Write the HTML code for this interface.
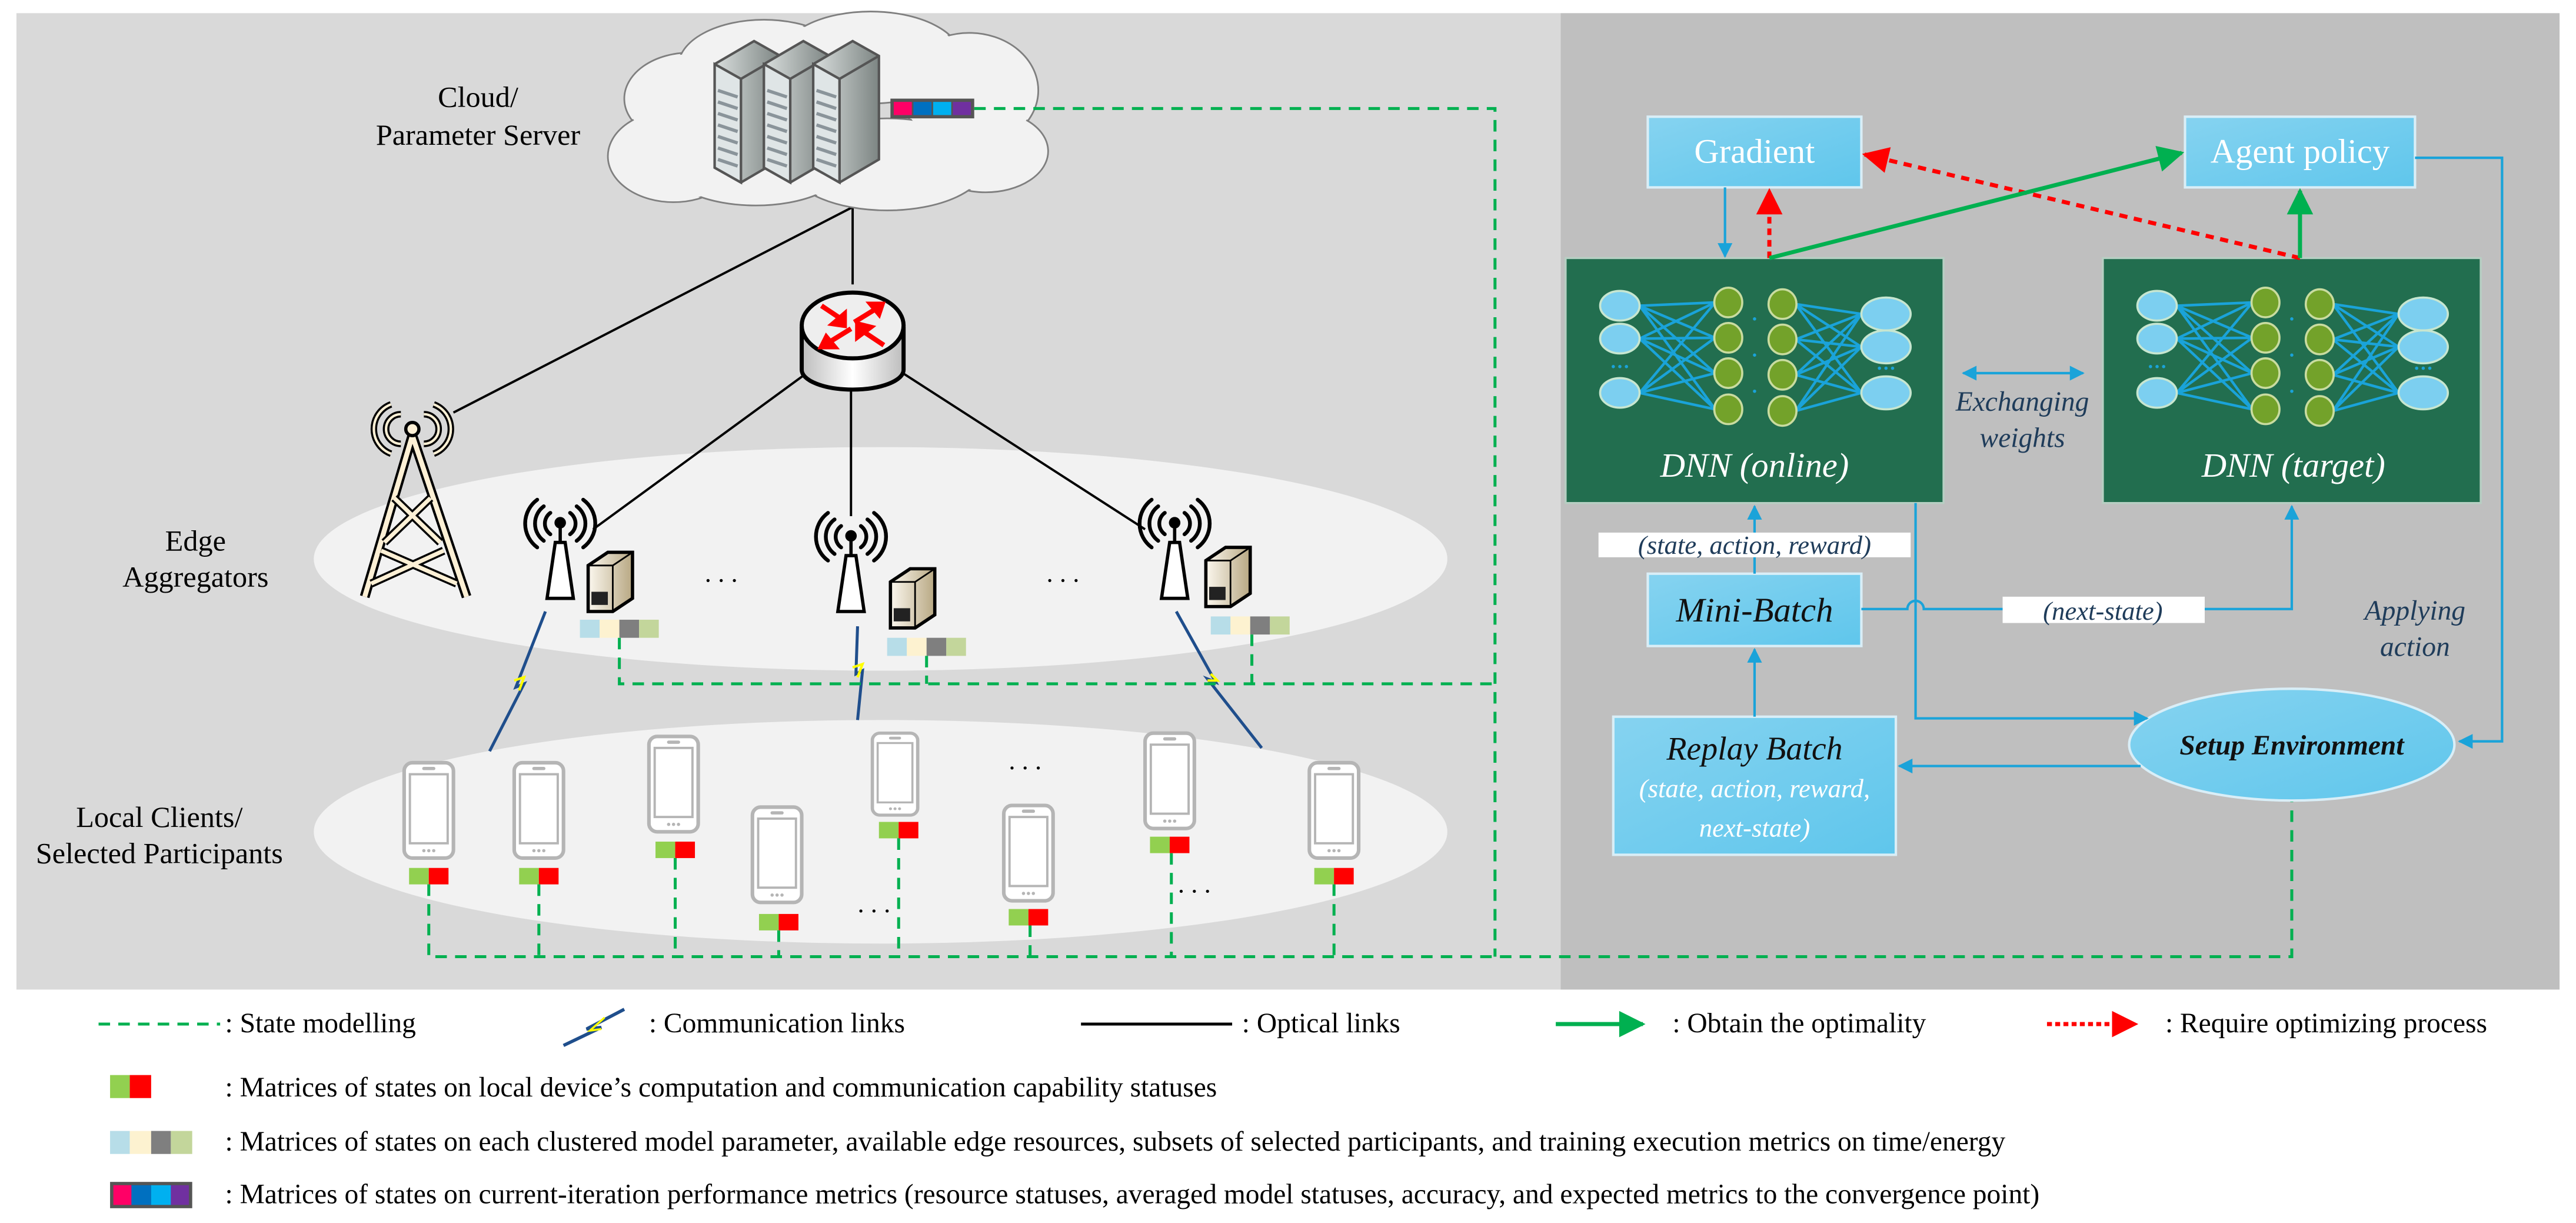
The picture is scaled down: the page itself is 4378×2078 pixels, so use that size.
<!DOCTYPE html>
<html><head><meta charset="utf-8">
<style>
html,body{margin:0;padding:0;background:#fff;}
svg{display:block;}
</style></head>
<body>
<svg width="4378" height="2078" viewBox="0 0 1568 744" preserveAspectRatio="none" xmlns="http://www.w3.org/2000/svg" font-family="'Liberation Serif', serif">
<defs>
<linearGradient id="bx" x1="0" y1="0" x2="1" y2="1"><stop offset="0" stop-color="#86d3f0"/><stop offset="1" stop-color="#5fc6ec"/></linearGradient>
<linearGradient id="srv" x1="0" y1="0" x2="1" y2="0"><stop offset="0" stop-color="#d9dedd"/><stop offset="1" stop-color="#7d8583"/></linearGradient>
<linearGradient id="ps" x1="0" y1="0" x2="1" y2="0"><stop offset="0" stop-color="#fbf7ee"/><stop offset="1" stop-color="#b8a883"/></linearGradient>
<linearGradient id="rt" x1="0" y1="0" x2="1" y2="0"><stop offset="0" stop-color="#bdbdbd"/><stop offset=".5" stop-color="#fff"/><stop offset="1" stop-color="#bdbdbd"/></linearGradient>
<marker id="ab" viewBox="0 0 10 10" refX="9" refY="5" markerWidth="11" markerHeight="9" markerUnits="userSpaceOnUse" orient="auto"><path d="M0,0L10,5L0,10z" fill="#1aa3d9"/></marker>
<marker id="ab2" viewBox="0 0 10 10" refX="1" refY="5" markerWidth="11" markerHeight="9" markerUnits="userSpaceOnUse" orient="auto"><path d="M10,0L0,5L10,10z" fill="#1aa3d9"/></marker>
<marker id="ag" viewBox="0 0 10 10" refX="9" refY="5" markerWidth="22" markerHeight="16" markerUnits="userSpaceOnUse" orient="auto"><path d="M0,0L10,5L0,10z" fill="#00b050"/></marker>
<marker id="ar" viewBox="0 0 10 10" refX="9" refY="5" markerWidth="22" markerHeight="16" markerUnits="userSpaceOnUse" orient="auto"><path d="M0,0L10,5L0,10z" fill="#ff0000"/></marker>
<g id="nn">
 <g stroke="#1aa3d9" stroke-width="1.6">
  <path d="M45,28L91,26M45,28L91,47.5M45,28L91,69M45,28L91,91M45,48L91,26M45,48L91,47.5M45,48L91,69M45,48L91,91M45,81L91,26M45,81L91,47.5M45,81L91,69M45,81L91,91"/>
  <path d="M140,27L180,33M140,27L180,53M140,27L180,81M140,48.5L180,33M140,48.5L180,53M140,48.5L180,81M140,70L180,33M140,70L180,53M140,70L180,81M140,92L180,33M140,92L180,53M140,92L180,81"/>
 </g>
 <g fill="#7ccff0" stroke="#c7e6d0" stroke-width="1.3">
  <ellipse cx="33" cy="28" rx="12" ry="9"/><ellipse cx="33" cy="48" rx="12" ry="9"/><ellipse cx="33" cy="81" rx="12" ry="9"/>
  <ellipse cx="195" cy="33" rx="15" ry="10"/><ellipse cx="195" cy="53" rx="15" ry="10"/><ellipse cx="195" cy="81" rx="15" ry="10"/>
 </g>
 <g fill="#73a22a" stroke="#c9dca0" stroke-width="1.3">
  <ellipse cx="99" cy="26" rx="8.5" ry="9"/><ellipse cx="99" cy="47.5" rx="8.5" ry="9"/><ellipse cx="99" cy="69" rx="8.5" ry="9"/><ellipse cx="99" cy="91" rx="8.5" ry="9"/>
  <ellipse cx="132" cy="27" rx="8.5" ry="9"/><ellipse cx="132" cy="48.5" rx="8.5" ry="9"/><ellipse cx="132" cy="70" rx="8.5" ry="9"/><ellipse cx="132" cy="92" rx="8.5" ry="9"/>
 </g>
 <g fill="#1aa3d9"><circle cx="29" cy="65" r="1"/><circle cx="33" cy="65" r="1"/><circle cx="37" cy="65" r="1"/><circle cx="191" cy="66" r="1"/><circle cx="195" cy="66" r="1"/><circle cx="199" cy="66" r="1"/><circle cx="115" cy="36" r="1"/><circle cx="115" cy="58" r="1"/><circle cx="115" cy="80" r="1"/></g>
</g>
<g id="phone">
 <rect x="0" y="0" width="30" height="58" rx="5" fill="#fff" stroke="#b5b5b5" stroke-width="2.2"/>
 <rect x="3.5" y="7" width="23" height="42" fill="#fff" stroke="#b5b5b5" stroke-width="1.4"/>
 <rect x="11" y="2.5" width="8" height="2" rx="1" fill="#b5b5b5"/>
 <circle cx="12" cy="53.5" r="1" fill="#b5b5b5"/><circle cx="15" cy="53.5" r="1" fill="#b5b5b5"/><circle cx="18" cy="53.5" r="1" fill="#b5b5b5"/>
</g>
<g id="bs">
 <path d="M-8,0L8,0L3,-34L-3,-34z" fill="#fff" stroke="#000" stroke-width="2"/>
 <line x1="0" y1="-34" x2="0" y2="-44" stroke="#000" stroke-width="2"/>
 <circle cx="0" cy="-46" r="3.5" fill="#000"/>
 <g fill="none" stroke="#000" stroke-width="2.3" stroke-linecap="round">
  <path d="M-6,-52A8,8 0 0 0 -6,-39M6,-52A8,8 0 0 1 6,-39"/>
  <path d="M-10,-56A13,13 0 0 0 -10,-35M10,-56A13,13 0 0 1 10,-35"/>
  <path d="M-14,-60A18,18 0 0 0 -14,-31M14,-60A18,18 0 0 1 14,-31"/>
 </g>
</g>
<g id="psrv">
 <path d="M0,8L12,0L27,0L27,28L15,36L0,36z" fill="url(#ps)" stroke="#000" stroke-width="2"/>
 <path d="M0,8L15,8L27,0M15,8L15,36" fill="none" stroke="#000" stroke-width="1"/>
 <rect x="2" y="24" width="10" height="8" fill="#222"/>
</g>
<g id="rack">
 <path d="M0,14L24,0L40,9L40,72L16,86L0,77z" fill="url(#srv)" stroke="#555" stroke-width="1.5"/>
 <path d="M0,14L16,23L40,9M16,23L16,86" fill="none" stroke="#555" stroke-width="1.5"/>
 <path d="M0,14L16,23L16,86L0,77z" fill="#dfe5e6" stroke="#555" stroke-width="1.5"/>
 <g stroke="#8a949a" stroke-width="2"><path d="M2,30L14,34M2,37L14,41M2,44L14,48M2,51L14,55M2,58L14,62M2,65L14,69M2,72L14,76"/></g>
</g>
</defs>

<!-- panels -->
<rect x="10" y="8" width="940" height="594" fill="#d9d9d9"/>
<rect x="950" y="8" width="608" height="594" fill="#bfbfbf"/>

<!-- ellipses -->
<ellipse cx="536" cy="340" rx="345" ry="68" fill="#f2f2f2"/>
<ellipse cx="536" cy="506" rx="345" ry="68" fill="#f2f2f2"/>

<!-- optical lines -->
<g stroke="#000" stroke-width="1.4" fill="none">
 <line x1="519" y1="126" x2="519" y2="173"/>
 <line x1="519" y1="126" x2="276" y2="251"/>
 <line x1="491" y1="227" x2="361" y2="322"/>
 <line x1="518" y1="237" x2="518" y2="314"/>
 <line x1="548" y1="226" x2="697" y2="322"/>
</g>

<!-- cloud -->
<g fill="#f2f2f2" stroke="#7f7f7f" stroke-width="1">
 <ellipse cx="420" cy="60" rx="40" ry="28"/><ellipse cx="410" cy="95" rx="40" ry="28"/><ellipse cx="465" cy="40" rx="52" ry="28"/>
 <ellipse cx="530" cy="35" rx="55" ry="28"/><ellipse cx="590" cy="55" rx="42" ry="35"/><ellipse cx="600" cy="92" rx="38" ry="25"/>
 <ellipse cx="540" cy="100" rx="60" ry="28"/><ellipse cx="460" cy="100" rx="55" ry="25"/>
</g>
<g fill="#f2f2f2">
 <ellipse cx="420" cy="60" rx="39" ry="27"/><ellipse cx="410" cy="95" rx="39" ry="27"/><ellipse cx="465" cy="40" rx="51" ry="27"/>
 <ellipse cx="530" cy="35" rx="54" ry="27"/><ellipse cx="590" cy="55" rx="41" ry="34"/><ellipse cx="600" cy="92" rx="37" ry="24"/>
 <ellipse cx="540" cy="100" rx="59" ry="27"/><ellipse cx="460" cy="100" rx="54" ry="24"/>
</g>
<!-- servers -->
<use href="#rack" transform="translate(435,25)"/>
<use href="#rack" transform="translate(465,25)"/>
<use href="#rack" transform="translate(495,25)"/>
<g transform="translate(0,-13)">
<rect x="542" y="73" width="51" height="12" fill="#555"/>
<rect x="544" y="75" width="11" height="8" fill="#ff0066"/><rect x="556" y="75" width="11" height="8" fill="#0070c0"/><rect x="568" y="75" width="11" height="8" fill="#00b0f0"/><rect x="580" y="75" width="11" height="8" fill="#7030a0"/>
</g>
<text x="291" y="65" font-size="18" text-anchor="middle">Cloud/</text>
<text x="291" y="88" font-size="18" text-anchor="middle">Parameter Server</text>

<!-- router -->
<path d="M488,200L488,225A31,12 0 0 0 550,225L550,200z" fill="url(#rt)" stroke="#000" stroke-width="2.5"/>
<ellipse cx="519" cy="198" rx="31" ry="20" fill="#eee" stroke="#000" stroke-width="2.5"/>
<g stroke="#ff0000" stroke-width="3" fill="#ff0000">
 <line x1="500" y1="186" x2="512" y2="194"/><path d="M514,191L514,198L507,197z"/>
 <line x1="538" y1="210" x2="526" y2="202"/><path d="M522,205L522,197L530,199z"/>
 <line x1="520" y1="196" x2="533" y2="188"/><path d="M537,185L530,185L535,191z"/>
 <line x1="518" y1="200" x2="505" y2="208"/><path d="M500,211L508,211L503,205z"/>
</g>

<!-- tower -->
<g stroke="#000" stroke-width="2" fill="none">
 <path d="M251,265L222,363M251,265L284,363" stroke="#000" stroke-width="6"/>
 <path d="M251,265L222,363M251,265L284,363" stroke="#fdf0d5" stroke-width="3"/>
 <path d="M240,303L268,330M262,303L234,330M232,335L278,355M270,335L226,355" stroke="#000" stroke-width="5"/>
 <path d="M240,303L268,330M262,303L234,330M232,335L278,355M270,335L226,355" stroke="#fdf0d5" stroke-width="2.5"/>
 <circle cx="251" cy="261" r="4" fill="#fdf0d5"/>
 <path d="M244,252A9,9 0 0 0 244,270M258,252A9,9 0 0 1 258,270" stroke-width="4"/>
 <path d="M238,246A16,16 0 0 0 238,276M264,246A16,16 0 0 1 264,276" stroke-width="4"/>
 <path d="M244,252A9,9 0 0 0 244,270M258,252A9,9 0 0 1 258,270M238,246A16,16 0 0 0 238,276M264,246A16,16 0 0 1 264,276" stroke="#fdf0d5" stroke-width="1.5"/>
</g>

<!-- base stations -->
<use href="#bs" transform="translate(341,364)"/>
<use href="#bs" transform="translate(518,372)"/>
<use href="#bs" transform="translate(715,364)"/>
<use href="#psrv" transform="translate(358,336)"/>
<use href="#psrv" transform="translate(542,346)"/>
<use href="#psrv" transform="translate(734,333)"/>

<!-- edge bars -->
<g>
 <rect x="353" y="377" width="12" height="11" fill="#b7dde8"/><rect x="365" y="377" width="12" height="11" fill="#fdf2d0"/><rect x="377" y="377" width="12" height="11" fill="#7f7f7f"/><rect x="389" y="377" width="12" height="11" fill="#c3d69b"/>
 <rect x="540" y="388" width="12" height="11" fill="#b7dde8"/><rect x="552" y="388" width="12" height="11" fill="#fdf2d0"/><rect x="564" y="388" width="12" height="11" fill="#7f7f7f"/><rect x="576" y="388" width="12" height="11" fill="#c3d69b"/>
 <rect x="737" y="375" width="12" height="11" fill="#b7dde8"/><rect x="749" y="375" width="12" height="11" fill="#fdf2d0"/><rect x="761" y="375" width="12" height="11" fill="#7f7f7f"/><rect x="773" y="375" width="12" height="11" fill="#c3d69b"/>
</g>

<!-- lightning -->
<path d="M332,372L314,418L319,416L298,457" fill="none" stroke="#1f4e8c" stroke-width="1.8"/><path d="M313,414L319,412L316,420" stroke="#ff0" stroke-width="1.5" fill="none"/>
<path d="M522,381L521,410L525,408L522,438" fill="none" stroke="#1f4e8c" stroke-width="1.8"/><path d="M519,406L525,404L522,412" stroke="#ff0" stroke-width="1.5" fill="none"/>
<path d="M716,372L740,415L735,413L768,455" fill="none" stroke="#1f4e8c" stroke-width="1.8"/><path d="M737,410L741,414L735,414" stroke="#ff0" stroke-width="1.5" fill="none"/>

<!-- dots -->
<g font-size="16" text-anchor="middle">
 <text x="439" y="354">. . .</text><text x="647" y="354">. . .</text>
 <text x="624" y="468">. . .</text><text x="532" y="555">. . .</text><text x="727" y="543">. . .</text>
</g>

<!-- labels -->
<text x="119" y="335" font-size="18" text-anchor="middle">Edge</text>
<text x="119" y="357" font-size="18" text-anchor="middle">Aggregators</text>
<text x="97" y="503" font-size="18" text-anchor="middle">Local Clients/</text>
<text x="97" y="525" font-size="18" text-anchor="middle">Selected Participants</text>

<!-- phones -->
<use href="#phone" transform="translate(246,464)"/>
<use href="#phone" transform="translate(313,464)"/>
<use href="#phone" transform="translate(395,448)"/>
<use href="#phone" transform="translate(458,491)"/>
<use href="#phone" transform="translate(531,446) scale(0.92,0.86)"/>
<use href="#phone" transform="translate(611,490)"/>
<use href="#phone" transform="translate(697,446)"/>
<use href="#phone" transform="translate(797,464)"/>
<!-- phone bars -->
<g>
 <rect x="249" y="528" width="12" height="10" fill="#92d050"/><rect x="261" y="528" width="12" height="10" fill="#ff0000"/>
 <rect x="316" y="528" width="12" height="10" fill="#92d050"/><rect x="328" y="528" width="12" height="10" fill="#ff0000"/>
 <rect x="399" y="512" width="12" height="10" fill="#92d050"/><rect x="411" y="512" width="12" height="10" fill="#ff0000"/>
 <rect x="462" y="556" width="12" height="10" fill="#92d050"/><rect x="474" y="556" width="12" height="10" fill="#ff0000"/>
 <rect x="535" y="500" width="12" height="10" fill="#92d050"/><rect x="547" y="500" width="12" height="10" fill="#ff0000"/>
 <rect x="614" y="553" width="12" height="10" fill="#92d050"/><rect x="626" y="553" width="12" height="10" fill="#ff0000"/>
 <rect x="700" y="509" width="12" height="10" fill="#92d050"/><rect x="712" y="509" width="12" height="10" fill="#ff0000"/>
 <rect x="800" y="528" width="12" height="10" fill="#92d050"/><rect x="812" y="528" width="12" height="10" fill="#ff0000"/>
</g>

<!-- green dashed state modelling -->
<g stroke="#00b050" stroke-width="1.8" stroke-dasharray="7,5" fill="none">
 <path d="M593,66L910,66L910,582"/>
 <path d="M377,388L377,416L910,416"/>
 <path d="M564,399L564,416"/>
 <path d="M762,386L762,416"/>
 <path d="M261,538L261,582L1395,582L1395,487"/>
 <path d="M328,538L328,582M411,522L411,582M474,566L474,582M547,510L547,582M627,563L627,582M713,519L713,582M812,538L812,582"/>
</g>

<!-- ===== Right panel ===== -->
<rect x="1003" y="71" width="130" height="43" fill="url(#bx)" stroke="#d9eef7" stroke-width="1.5"/>
<text x="1068" y="99" font-size="21" fill="#fff" text-anchor="middle">Gradient</text>
<rect x="1330" y="71" width="140" height="43" fill="url(#bx)" stroke="#d9eef7" stroke-width="1.5"/>
<text x="1400" y="99" font-size="21" fill="#fff" text-anchor="middle">Agent policy</text>

<rect x="953" y="157" width="230" height="149" fill="#226e4f" stroke="#b7cfc3" stroke-width="1.2"/>
<rect x="1280" y="157" width="230" height="149" fill="#226e4f" stroke="#b7cfc3" stroke-width="1.2"/>
<use href="#nn" transform="translate(953,158)"/>
<use href="#nn" transform="translate(1280,158)"/>
<text x="1068" y="290" font-size="21" font-style="italic" fill="#fff" text-anchor="middle">DNN (online)</text>
<text x="1396" y="290" font-size="21" font-style="italic" fill="#fff" text-anchor="middle">DNN (target)</text>

<line x1="1195" y1="227" x2="1268" y2="227" stroke="#1aa3d9" stroke-width="1.5" marker-end="url(#ab)" marker-start="url(#ab2)"/>
<text x="1231" y="250" font-size="17" font-style="italic" fill="#1f3c5a" text-anchor="middle">Exchanging</text>
<text x="1231" y="272" font-size="17" font-style="italic" fill="#1f3c5a" text-anchor="middle">weights</text>

<rect x="1003" y="349" width="130" height="44" fill="url(#bx)" stroke="#d9eef7" stroke-width="1.5"/>
<text x="1068" y="378" font-size="21" font-style="italic" fill="#111" text-anchor="middle">Mini-Batch</text>

<rect x="982" y="436" width="172" height="84" fill="url(#bx)" stroke="#d9eef7" stroke-width="1.5"/>
<text x="1068" y="462" font-size="20" font-style="italic" fill="#111" text-anchor="middle">Replay Batch</text>
<text x="1068" y="485" font-size="16" font-style="italic" fill="#fff" text-anchor="middle">(state, action, reward,</text>
<text x="1068" y="509" font-size="16" font-style="italic" fill="#fff" text-anchor="middle">next-state)</text>

<ellipse cx="1395" cy="453" rx="99" ry="34" fill="url(#bx)" stroke="#d9eef7" stroke-width="1.5"/>
<text x="1395" y="459" font-size="17" font-style="italic" font-weight="bold" fill="#111" text-anchor="middle">Setup Environment</text>

<text x="1470" y="377" font-size="17" font-style="italic" fill="#1f3c5a" text-anchor="middle">Applying</text>
<text x="1470" y="399" font-size="17" font-style="italic" fill="#1f3c5a" text-anchor="middle">action</text>

<g stroke="#1aa3d9" stroke-width="1.5" fill="none">
 <path d="M1050,114L1050,156" marker-end="url(#ab)"/>
 <path d="M1470,96L1523,96L1523,451L1497,451" marker-end="url(#ab)"/>
 <path d="M1166,306L1166,437L1307,437" marker-end="url(#ab)"/>
 <path d="M1068,349L1068,308" marker-end="url(#ab)"/>
 <path d="M1133,370.5L1161,370.5A5,5 0 0 1 1171,370.5L1395,370.5L1395,308" marker-end="url(#ab)"/>
 <path d="M1068,436L1068,395" marker-end="url(#ab)"/>
 <path d="M1303,466L1156,466" marker-end="url(#ab)"/>
</g>
<rect x="973" y="324" width="190" height="15" fill="#fff"/>
<text x="1068" y="337" font-size="16" font-style="italic" fill="#1f3c5a" text-anchor="middle">(state, action, reward)</text>
<rect x="1219" y="363" width="123" height="16" fill="#fff"/>
<text x="1280" y="377" font-size="16" font-style="italic" fill="#1f3c5a" text-anchor="middle">(next-state)</text>

<!-- green / red arrows -->
<line x1="1077" y1="157" x2="1077" y2="116" stroke="#ff0000" stroke-width="2.5" stroke-dasharray="4,3" marker-end="url(#ar)"/>
<line x1="1400" y1="157" x2="1135" y2="94" stroke="#ff0000" stroke-width="2.5" stroke-dasharray="5,4" marker-end="url(#ar)"/>
<line x1="1077" y1="157" x2="1328" y2="93" stroke="#00b050" stroke-width="2.5" marker-end="url(#ag)"/>
<line x1="1400" y1="157" x2="1400" y2="116" stroke="#00b050" stroke-width="2.5" marker-end="url(#ag)"/>

<!-- ===== Legend ===== -->
<line x1="60" y1="623" x2="134" y2="623" stroke="#00b050" stroke-width="1.8" stroke-dasharray="7,5"/>
<text x="137" y="628" font-size="17">: State modelling</text>
<path d="M380,614L357,626L366,625L343,636" fill="none" stroke="#1f4e8c" stroke-width="2"/><path d="M368,619L359,627L366,626" stroke="#ff0" stroke-width="1.2" fill="none"/>
<text x="395" y="628" font-size="17">: Communication links</text>
<line x1="658" y1="623" x2="750" y2="623" stroke="#000" stroke-width="1.8"/>
<text x="756" y="628" font-size="17">: Optical links</text>
<line x1="947" y1="623" x2="1000" y2="623" stroke="#00b050" stroke-width="2.5" marker-end="url(#ag)"/>
<text x="1018" y="628" font-size="17">: Obtain the optimality</text>
<line x1="1246" y1="623" x2="1300" y2="623" stroke="#ff0000" stroke-width="2.5" stroke-dasharray="3,2" marker-end="url(#ar)"/>
<text x="1318" y="628" font-size="17">: Require optimizing process</text>

<rect x="67" y="654" width="12" height="14" fill="#92d050"/><rect x="79" y="654" width="13" height="14" fill="#ff0000"/>
<text x="137" y="667" font-size="17">: Matrices of states on local device’s computation and communication capability statuses</text>

<rect x="67" y="688" width="12" height="14" fill="#b7dde8"/><rect x="79" y="688" width="13" height="14" fill="#fdf2d0"/><rect x="92" y="688" width="12" height="14" fill="#7f7f7f"/><rect x="104" y="688" width="13" height="14" fill="#c3d69b"/>
<text x="137" y="700" font-size="17">: Matrices of states on each clustered model parameter, available edge resources, subsets of selected participants, and training execution metrics on time/energy</text>

<rect x="67" y="719" width="50" height="16" fill="#555"/>
<rect x="69" y="721" width="11" height="12" fill="#ff0066"/><rect x="80" y="721" width="12" height="12" fill="#0070c0"/><rect x="92" y="721" width="12" height="12" fill="#00b0f0"/><rect x="104" y="721" width="11" height="12" fill="#7030a0"/>
<text x="137" y="732" font-size="17">: Matrices of states on current-iteration performance metrics (resource statuses, averaged model statuses, accuracy, and expected metrics to the convergence point)</text>
</svg>
</body></html>
